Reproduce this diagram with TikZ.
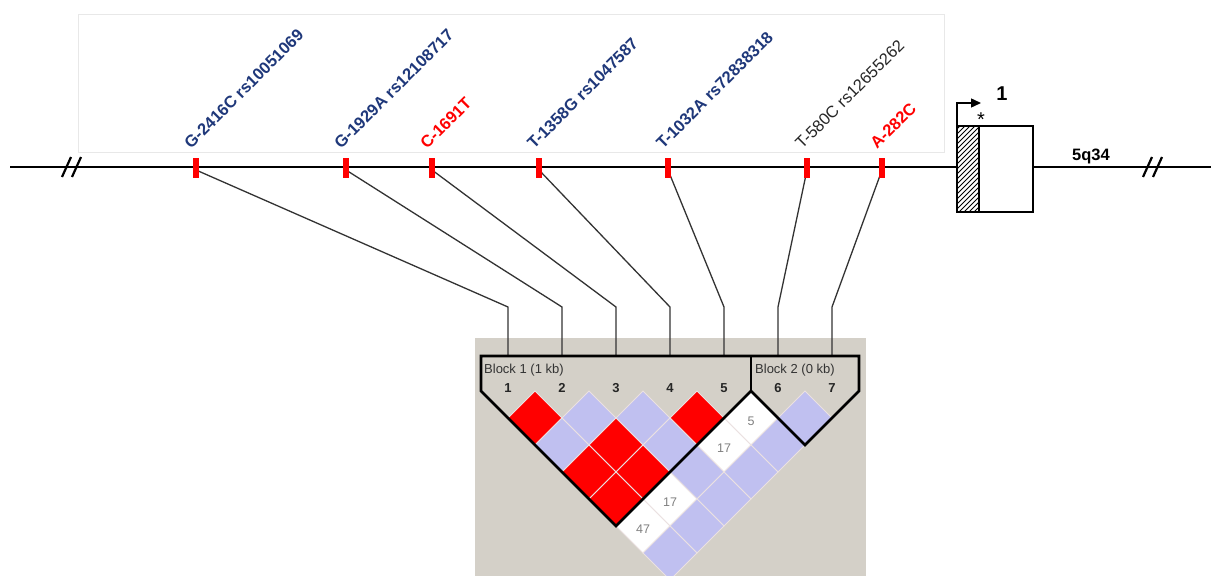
\documentclass[tikz,border=0pt]{standalone}
\usepackage{fontspec}
\setmainfont{Liberation Sans}
\usetikzlibrary{arrows.meta}
\definecolor{snpblue}{RGB}{31,56,122}
\definecolor{snpred}{RGB}{255,0,0}
\definecolor{ldlav}{RGB}{192,192,240}
\definecolor{panelgray}{RGB}{212,208,200}
\definecolor{framegray}{RGB}{232,232,232}
\definecolor{cellline}{RGB}{235,225,225}
\tikzset{
 snplabel/.style={anchor=base west, rotate=45, inner sep=0pt, font=\fontsize{16.5}{16.5}\selectfont\bfseries},
 snptick/.style={fill=snpred, draw=none, minimum width=6pt, minimum height=20pt, inner sep=0pt},
 conn/.style={draw=black!80, line width=1.3pt},
 blockline/.style={line width=2.6pt, line join=miter},
 cell/.style={draw=cellline, line width=1pt},
 mnum/.style={font=\fontsize{13}{13}\selectfont\bfseries, text=black!85, inner sep=0pt},
 blk/.style={font=\fontsize{13}{13}\selectfont, text=black!80, anchor=west, inner sep=0pt},
 ldnum/.style={font=\fontsize{12.5}{12.5}\selectfont, text=black!50, inner sep=0pt},
 chrom/.style={line width=2.8pt},
 brk/.style={line width=2.2pt},
}
\begin{document}
\begin{tikzpicture}[x=1pt,y=-1pt]
\useasboundingbox (0,0) rectangle (1211,576);
\fill[white] (0,0) rectangle (1211,576);
% light frame behind labels
\draw[framegray, line width=1pt] (78,14) rectangle (944,152);
% chromosome line
\draw[chrom] (10,167) -- (957,167);
\draw[chrom] (1033,167) -- (1211,167);
\draw[brk] (62,177) -- (71,157);
\draw[brk] (72,177) -- (81,157);
\draw[brk] (1143,177) -- (1152,157);
\draw[brk] (1153,177) -- (1162,157);
% gene
\begin{scope}
\clip (957,126) rectangle (979,212);
\foreach \k in {0,...,24} \draw[line width=1pt] (955,126+\k*5) -- ++(40,-40);
\end{scope}
\node[draw, line width=1.3pt, minimum width=76pt, minimum height=86pt, inner sep=0pt] (gene) at (995,169) {};
\draw[line width=1.3pt] (979,126) -- (979,212);
\coordinate (tss) at (957,126);
\coordinate (tssup) at (957,103);
\coordinate (tssend) at (981,103);
\draw[line width=1.4pt, -{Triangle[length=10pt,width=9pt]}] (tss) -- (tssup) -- (tssend);
\node[font=\fontsize{20}{20}\selectfont, inner sep=0pt] (star) at (981,120) {*};
\node[font=\fontsize{20}{20}\selectfont\bfseries, inner sep=0pt] (exon) at (1002,94) {1};
\node[font=\fontsize{16.5}{16.5}\selectfont\bfseries, inner sep=0pt] (chr) at (1091,156) {5q34};
% LD panel
\fill[panelgray] (475,338) rectangle (866,576);
% SNP tick coordinates and connectors
\foreach \n/\x/\m in {1/196/508,2/346/562,3/432/616,4/539/670,5/668/724,6/807/778,7/882/832}{
  \coordinate (t\n) at (\x,170);
  \coordinate (b\n) at (\m,307);
  \coordinate (m\n) at (\m,356);
}
\foreach \n in {1,...,7} \draw[conn] (t\n) -- (b\n) -- (m\n);
\foreach \n/\x in {1/196,2/346,3/432,4/539,5/668,6/807,7/882}
  \node[snptick] (s\n) at (\x,168) {};
% SNP labels
\node[snplabel, text=snpblue] (l1) at ([xshift=-5pt,yshift=18pt]s1.center) {G-2416C rs10051069};
\node[snplabel, text=snpblue] (l2) at ([xshift=-5pt,yshift=18pt]s2.center) {G-1929A rs12108717};
\node[snplabel, text=snpred] (l3) at ([xshift=-5pt,yshift=18pt]s3.center) {C-1691T};
\node[snplabel, text=snpblue] (l4) at ([xshift=-5pt,yshift=18pt]s4.center) {T-1358G rs1047587};
\node[snplabel, text=snpblue] (l5) at ([xshift=-5pt,yshift=18pt]s5.center) {T-1032A rs72838318};
\node[snplabel, text=black!85, font=\fontsize{16.5}{16.5}\selectfont\mdseries] (l6) at ([xshift=-5pt,yshift=18pt]s6.center) {T-580C rs12655262};
\node[snplabel, text=snpred] (l7) at ([xshift=-5pt,yshift=18pt]s7.center) {A-282C};
% LD cells
\foreach \i/\j/\c in {1/2/snpred,2/3/ldlav,3/4/ldlav,4/5/snpred,5/6/white,6/7/ldlav,
                      1/3/ldlav,2/4/snpred,3/5/ldlav,4/6/white,5/7/ldlav,
                      1/4/snpred,2/5/snpred,3/6/ldlav,4/7/ldlav,
                      1/5/snpred,2/6/white,3/7/ldlav,
                      1/6/white,2/7/ldlav,
                      1/7/ldlav}{
  \pgfmathsetmacro{\cx}{508+27*(\i+\j-2)}
  \pgfmathsetmacro{\cy}{418+27*(\j-\i-1)}
  \filldraw[cell, fill=\c] (\cx,\cy-27) -- (\cx+27,\cy) -- (\cx,\cy+27) -- (\cx-27,\cy) -- cycle;
}
\node[ldnum] (v56) at (751,421) {5};
\node[ldnum] (v46) at (724,448) {17};
\node[ldnum] (v26) at (670,502) {17};
\node[ldnum] (v16) at (643,529) {47};
% block outlines
\draw[blockline] (481,391) -- (481,356) -- (859,356) -- (859,391) -- (805,445) -- (751,391) -- (616,526) -- cycle;
\draw[blockline] (751,356) -- (751,391);
\node[blk] (blk1) at (484,370) {Block 1 (1 kb)};
\node[blk] (blk2) at (755,370) {Block 2 (0 kb)};
\foreach \n/\m in {1/508,2/562,3/616,4/670,5/724,6/778,7/832}
  \node[mnum] (n\n) at (\m,388) {\n};
\end{tikzpicture}
\end{document}
